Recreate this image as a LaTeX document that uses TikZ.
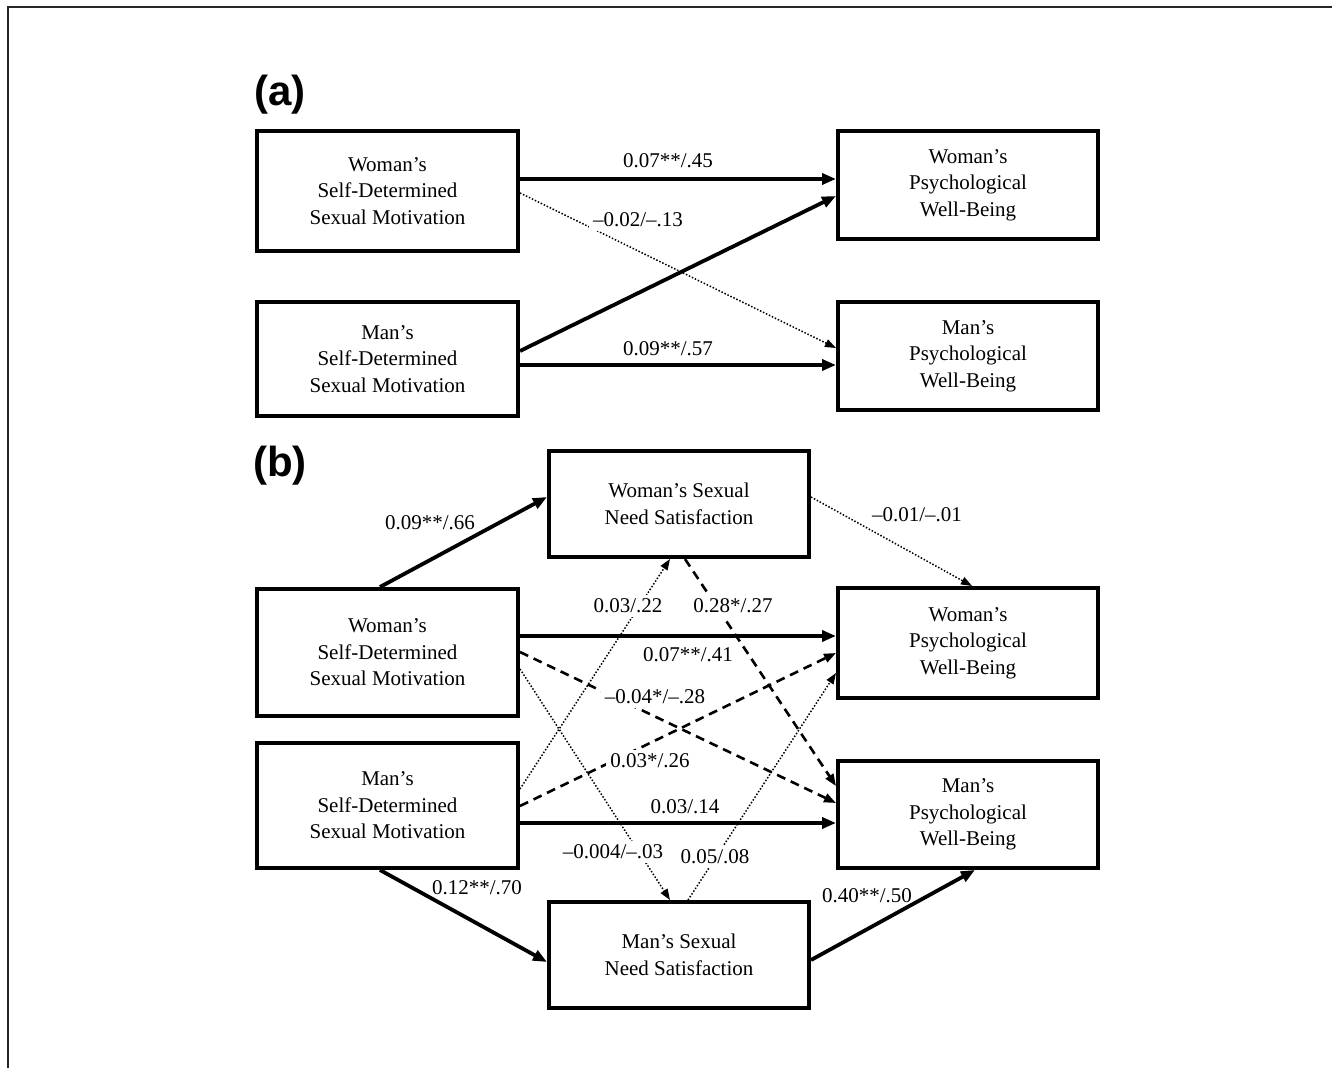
\documentclass[tikz,border=0pt]{standalone}
\usepackage{fontspec}
\setmainfont{Liberation Serif}
\newfontfamily\labfont{Liberation Sans}
\usetikzlibrary{arrows.meta,calc}
\begin{document}
\begin{tikzpicture}[x=0.5pt,y=-0.5pt,
 box/.style={draw,line width=2pt,rectangle,inner sep=0pt,align=center,
   font=\fontsize{10.5}{13.25}\selectfont},
 lab/.style={font=\fontsize{10.5}{12}\selectfont,inner sep=1pt},
 wlab/.style={lab,fill=white,inner sep=2pt},
 solidarr/.style={line width=1.9pt,-{Triangle[length=7pt,width=5.5pt]}},
 dasharr/.style={line width=1.3pt,dash pattern=on 4.5pt off 3pt,-{Triangle[length=6pt,width=4.5pt]}},
 dotarr/.style={line width=0.75pt,dash pattern=on 0.75pt off 0.9pt,-{Triangle[length=5.5pt,width=4pt]}},
 panel/.style={font=\labfont\bfseries\fontsize{21}{21}\selectfont,inner sep=0pt}]
\useasboundingbox (0,0) rectangle (1332,1068);
% frame
\coordinate (fb) at (8,1068);
\coordinate (fc) at (8,7);
\coordinate (fr) at (1332,7);
\draw[line width=1pt,black!85] (fb) -- (fc) -- (fr);

% panel labels
\node[panel] (pa) at (280,95) {(a)};
\node[panel] (pb) at (280,466) {(b)};

% ---- panel (a) boxes
\node[box,minimum width=130.5pt,minimum height=60pt] (A1) at (387.5,191)
  {Woman’s\\Self-Determined\\Sexual Motivation};
\node[box,minimum width=130.5pt,minimum height=57pt] (A2) at (387.5,359)
  {Man’s\\Self-Determined\\Sexual Motivation};
\node[box,minimum width=130pt,minimum height=54pt] (A3) at (968,185)
  {Woman’s\\Psychological\\Well-Being};
\node[box,minimum width=130pt,minimum height=54pt] (A4) at (968,356)
  {Man’s\\Psychological\\Well-Being};

% ---- panel (b) boxes
\node[box,minimum width=130pt,minimum height=53pt] (WN) at (679,504)
  {Woman’s Sexual\\Need Satisfaction};
\node[box,minimum width=130.5pt,minimum height=63.5pt] (B1) at (387.5,652.5)
  {Woman’s\\Self-Determined\\Sexual Motivation};
\node[box,minimum width=130.5pt,minimum height=62.5pt] (B3) at (387.5,805.5)
  {Man’s\\Self-Determined\\Sexual Motivation};
\node[box,minimum width=130pt,minimum height=55pt] (B2) at (968,643)
  {Woman’s\\Psychological\\Well-Being};
\node[box,minimum width=130pt,minimum height=53.5pt] (B4) at (968,814.5)
  {Man’s\\Psychological\\Well-Being};
\node[box,minimum width=130pt,minimum height=53pt] (MN) at (679,955)
  {Man’s Sexual\\Need Satisfaction};

% ---- panel (a) connectors
\draw[solidarr] (A1.east |- 0,179) -- (A3.west |- 0,179);
\draw[dotarr]   (A1.east |- 0,193) -- (A4.west |- 0,348);
\draw[solidarr] (A2.east |- 0,351) -- (A3.west |- 0,196);
\draw[solidarr] (A2.east |- 0,365) -- (A4.west |- 0,365);

\node[lab]  (la1) at (668,161) {0.07**/.45};
\node[wlab] (la2) at (638,220) {–0.02/–.13};
\node[lab]  (la4) at (668,349) {0.09**/.57};

% ---- panel (b) connectors
\draw[solidarr] (B1.north -| 380,0) -- (WN.west |- 0,497);
\draw[dotarr]   (WN.east |- 0,497) -- (B2.north -| 972,0);
\draw[dotarr]   (B3.east |- 0,789) -- (WN.south -| 670,0);
\draw[dasharr]  (WN.south -| 685,0) -- (B4.west |- 0,786);
\draw[solidarr] (B1.east |- 0,636) -- (B2.west |- 0,636);
\draw[dasharr]  (B1.east |- 0,652) -- (B4.west |- 0,803);
\draw[dotarr]   (B1.east |- 0,669) -- (MN.north -| 670,0);
\draw[dasharr]  (B3.east |- 0,806) -- (B2.west |- 0,653);
\draw[solidarr] (B3.east |- 0,823) -- (B4.west |- 0,823);
\draw[dotarr]   (MN.north -| 688,0) -- (B2.west |- 0,673);
\draw[solidarr] (B3.south -| 380,0) -- (MN.west |- 0,962);
\draw[solidarr] (MN.east |- 0,960) -- (B4.south -| 975,0);

\node[lab]  (lb1)  at (430,523) {0.09**/.66};
\node[lab]  (lb2)  at (917,515) {–0.01/–.01};
\node[wlab] (lb3)  at (628,606) {0.03/.22};
\node[wlab] (lb4)  at (733,606) {0.28*/.27};
\node[lab]  (lb5)  at (688,655) {0.07**/.41};
\node[wlab] (lb6)  at (655,697) {–0.04*/–.28};
\node[wlab] (lb7)  at (613,852) {–0.004/–.03};
\node[wlab] (lb8)  at (650,761) {0.03*/.26};
\node[lab]  (lb9)  at (685,807) {0.03/.14};
\node[wlab] (lb10) at (715,857) {0.05/.08};
\node[lab]  (lb11) at (477,888) {0.12**/.70};
\node[lab]  (lb12) at (867,896) {0.40**/.50};
\end{tikzpicture}
\end{document}
